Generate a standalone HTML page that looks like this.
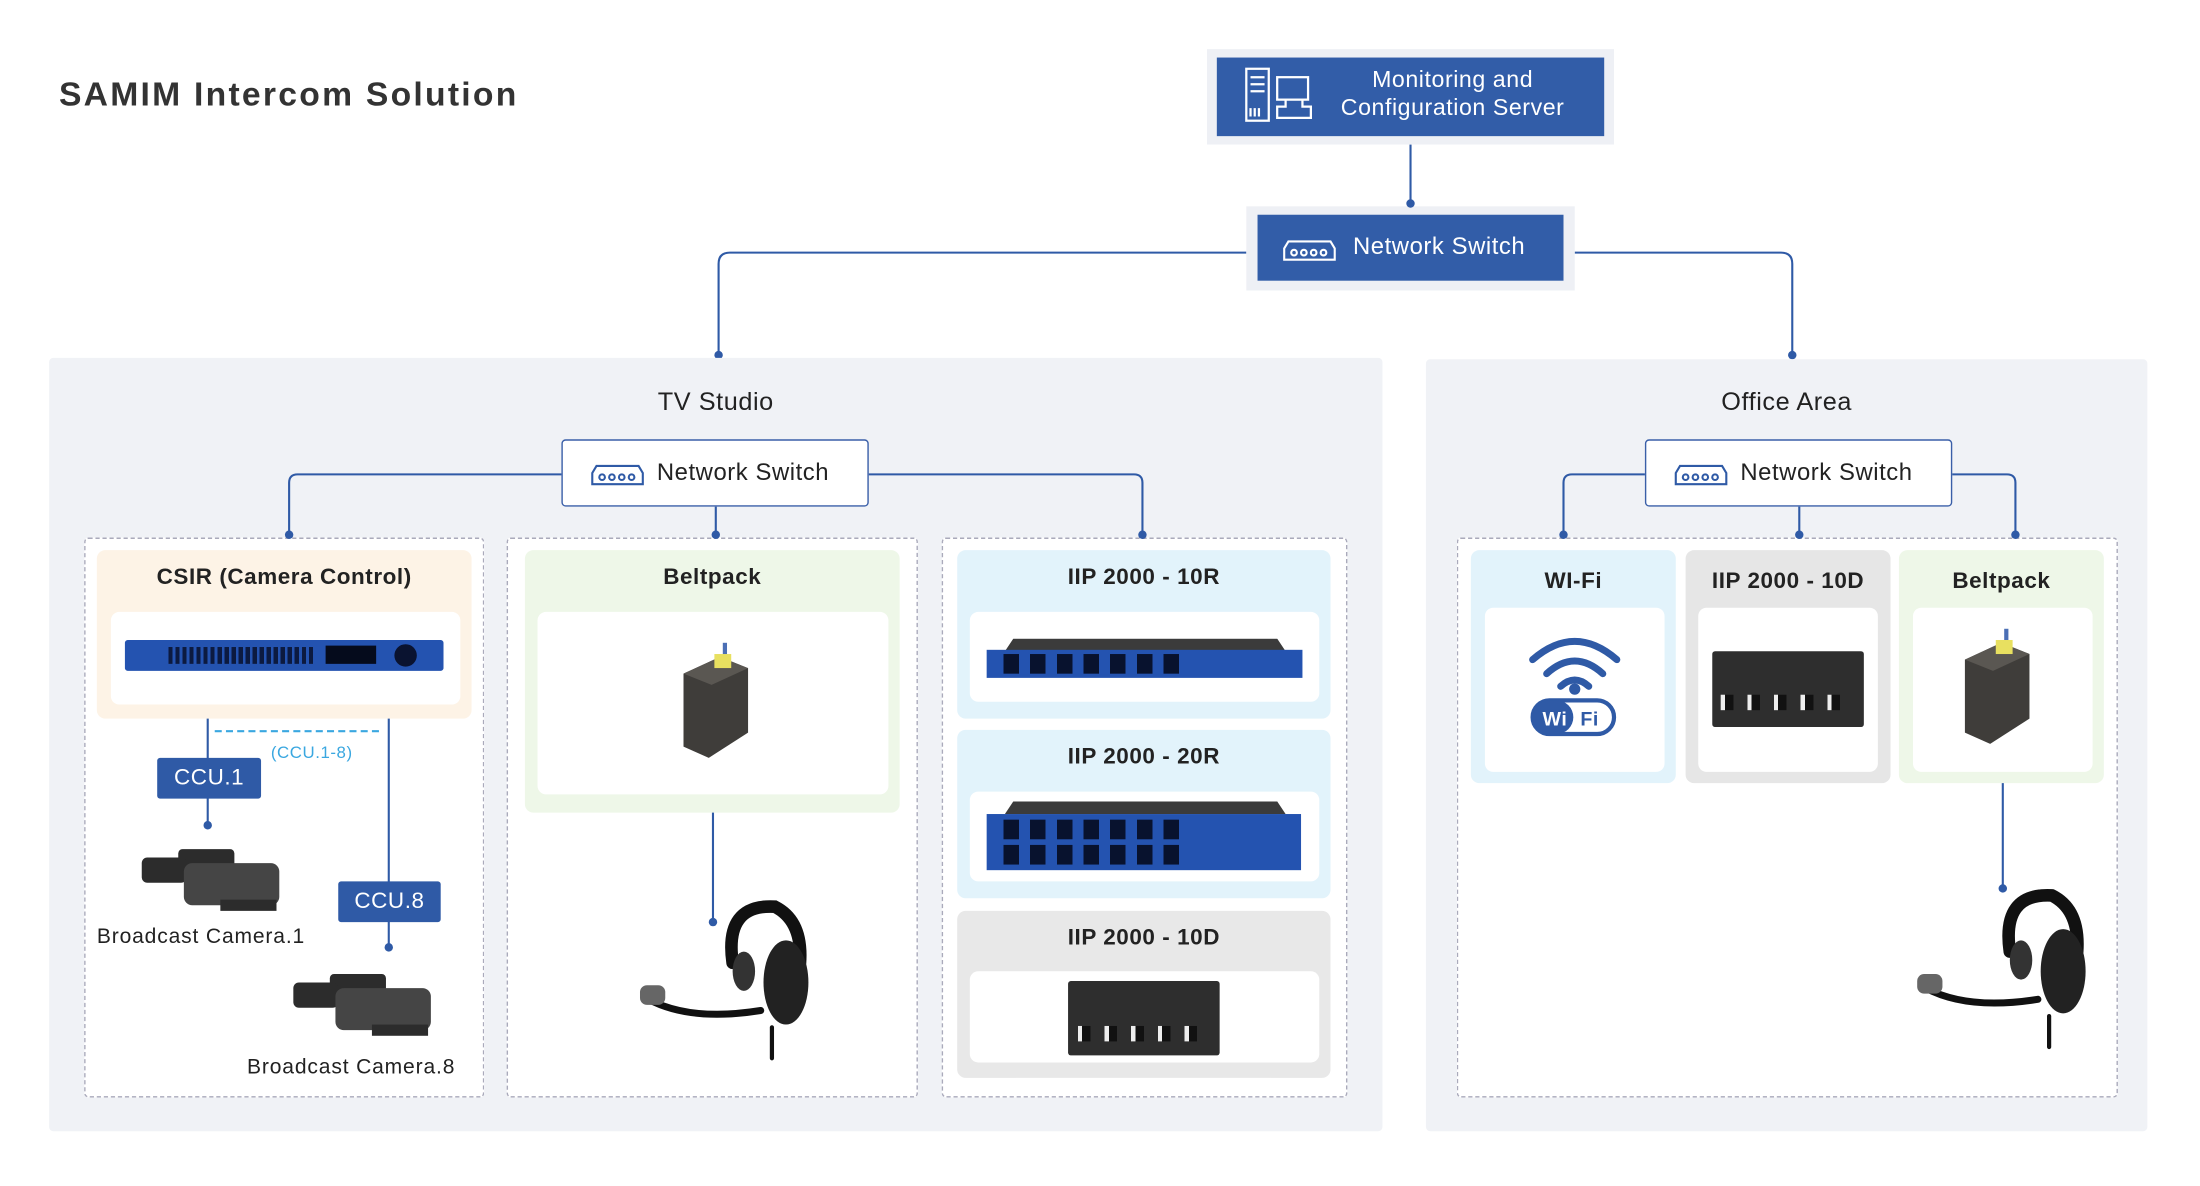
<!DOCTYPE html>
<html><head><meta charset="utf-8"><style>
html,body{margin:0;padding:0;background:#fff;width:2200px;height:1184px;overflow:hidden}
#w{position:absolute;left:0;top:0;width:1560px;height:845px;transform:scale(1.4035);transform-origin:0 0;font-family:"Liberation Sans",sans-serif;color:#222;letter-spacing:0.4px}
.a{position:absolute;box-sizing:border-box}
.t{position:absolute;text-align:center;font-weight:bold;font-size:16px;color:#222}
.blue{background:#325da8;color:#fff}
.dash{border:1px dashed #aab;background:#fff;border-radius:3px}
.in{background:#fff;border-radius:6px}
.dot{position:absolute;width:6px;height:6px;border-radius:3px;background:#2f5aa6;margin:-3px 0 0 -3px}
.ccu{position:absolute;background:#2f5aa6;color:#fff;font-size:16px;text-align:center;line-height:29px;border-radius:2px}
.lbl{position:absolute;font-size:15px;color:#222;white-space:nowrap;letter-spacing:0.6px}
</style></head><body><div id="w">
<svg class="a" style="left:0;top:0" width="1560" height="840">
<g fill="none" stroke="#2f5aa6" stroke-width="1.5">
<path d="M1005 103V145"/>
<path d="M888 180H520Q512 180 512 188V253"/>
<path d="M1122 180H1269Q1277 180 1277 188V253"/>
</g></svg>
<div class="a" style="left:860px;top:35px;width:290px;height:68px;background:#eef0f5"></div>
<div class="a blue" style="left:867px;top:41px;width:276px;height:56px"></div>
<div class="a" style="left:935px;top:47px;width:200px;text-align:center;color:#fff;font-size:16.5px;line-height:20px">Monitoring and<br>Configuration Server</div>
<svg class="a" style="left:886px;top:47px" width="52" height="42"><g fill="none" stroke="#fff" stroke-width="1.6"><rect x="2" y="2" width="16" height="37"/><path d="M5 8h10M5 13h10M5 18h10M5 30v6M8 30v6M11 30v6"/><rect x="24" y="8" width="22" height="16"/><path d="M30 24v5h-6v8h24v-8h-6v-5"/></g></svg>
<div class="a" style="left:888px;top:147px;width:234px;height:60px;background:#eef0f5"></div>
<div class="a blue" style="left:896px;top:153px;width:218px;height:47px"></div>
<div class="a" style="left:964px;top:166px;color:#fff;font-size:17px">Network Switch</div>
<svg class="a" style="left:914px;top:168px" width="40" height="20"><g fill="none" stroke="#fff" stroke-width="1.5"><path d="M4 4h30l3 5v8H1V9z"/><circle cx="8" cy="12" r="2"/><circle cx="15" cy="12" r="2"/><circle cx="22" cy="12" r="2"/><circle cx="29" cy="12" r="2"/></g></svg>
<div class="dot" style="left:1005px;top:145px"></div>
<div class="dot" style="left:512px;top:253px"></div>
<div class="dot" style="left:1277px;top:253px"></div>
<div class="a" style="left:42px;top:54px;font-size:24px;font-weight:bold;color:#333;letter-spacing:1.6px">SAMIM Intercom Solution</div>

<div class="a" style="left:35px;top:255px;width:950px;height:551px;background:#f0f2f6;border-radius:3px"></div>
<div class="a" style="left:1016px;top:256px;width:514px;height:550px;background:#f0f2f6;border-radius:3px"></div>
<div class="a" style="left:410px;top:276px;width:200px;text-align:center;font-size:18px">TV Studio</div>
<div class="a" style="left:1173px;top:276px;width:200px;text-align:center;font-size:18px">Office Area</div>

<div class="a dash" style="left:60px;top:383px;width:285px;height:399px"></div>
<div class="a dash" style="left:361px;top:383px;width:293px;height:399px"></div>
<div class="a dash" style="left:671px;top:383px;width:289px;height:399px"></div>
<div class="a dash" style="left:1038px;top:383px;width:471px;height:399px"></div>

<svg class="a" style="left:0;top:0" width="1560" height="840">
<g fill="none" stroke="#2f5aa6" stroke-width="1.5">
<path d="M400 338H212Q206 338 206 344V381"/><path d="M510 361V381"/><path d="M619 338H808Q814 338 814 344V381"/>
<path d="M1172 338H1120Q1114 338 1114 344V381"/><path d="M1282 361V381"/><path d="M1391 338H1430Q1436 338 1436 344V381"/>
<path d="M148 502V588"/><path d="M277 502V675"/><path d="M508 566V657"/><path d="M1427 550V633"/>
</g>
<path d="M153 521H272" stroke="#3aa7e0" stroke-width="1.5" stroke-dasharray="5 3"/>
</svg>
<div class="a" style="left:400px;top:313px;width:219px;height:48px;background:#fff;border:1px solid #3a5fa8;border-radius:3px"></div>
<div class="a" style="left:468px;top:327px;font-size:17px">Network Switch</div>
<svg class="a" style="left:421px;top:328px" width="40" height="20"><g fill="none" stroke="#2f5aa6" stroke-width="1.5"><path d="M4 4h30l3 5v8H1V9z"/><circle cx="8" cy="12" r="2"/><circle cx="15" cy="12" r="2"/><circle cx="22" cy="12" r="2"/><circle cx="29" cy="12" r="2"/></g></svg>
<div class="a" style="left:1172px;top:313px;width:219px;height:48px;background:#fff;border:1px solid #3a5fa8;border-radius:3px"></div>
<div class="a" style="left:1240px;top:327px;font-size:17px">Network Switch</div>
<svg class="a" style="left:1193px;top:328px" width="40" height="20"><g fill="none" stroke="#2f5aa6" stroke-width="1.5"><path d="M4 4h30l3 5v8H1V9z"/><circle cx="8" cy="12" r="2"/><circle cx="15" cy="12" r="2"/><circle cx="22" cy="12" r="2"/><circle cx="29" cy="12" r="2"/></g></svg>
<div class="dot" style="left:206px;top:381px"></div><div class="dot" style="left:510px;top:381px"></div><div class="dot" style="left:814px;top:381px"></div>
<div class="dot" style="left:1114px;top:381px"></div><div class="dot" style="left:1282px;top:381px"></div><div class="dot" style="left:1436px;top:381px"></div>

<!-- CSIR -->
<div class="a" style="left:69px;top:392px;width:267px;height:120px;background:#fdf3e6;border-radius:6px"></div>
<div class="t" style="left:69px;top:403px;width:267px">CSIR (Camera Control)</div>
<div class="a in" style="left:79px;top:436px;width:249px;height:66px"></div>
<div class="a" style="left:89px;top:456px;width:227px;height:22px;background:#2453b0;border-radius:2px"></div>
<div class="a" style="left:120px;top:461px;width:105px;height:12px;background:repeating-linear-gradient(90deg,#0c1a40 0 3px,#2453b0 3px 5px)"></div>
<div class="a" style="left:232px;top:460px;width:36px;height:13px;background:#050b1c"></div>
<div class="a" style="left:281px;top:459px;width:16px;height:16px;border-radius:8px;background:#0a1330"></div>
<div class="ccu" style="left:112px;top:540px;width:74px">CCU.1</div>
<div class="ccu" style="left:241px;top:628px;width:73px">CCU.8</div>
<div class="a" style="left:193px;top:529px;font-size:12px;color:#3aa7e0">(CCU.1-8)</div>
<div class="dot" style="left:148px;top:588px"></div><div class="dot" style="left:277px;top:675px"></div>
<svg class="a" style="left:97px;top:597px" width="108" height="56"><g fill="#2c2c2c"><rect x="30" y="8" width="40" height="14" rx="3"/><rect x="4" y="14" width="32" height="18" rx="4"/><rect x="34" y="18" width="68" height="30" rx="6" fill="#454545"/><rect x="60" y="44" width="40" height="8"/></g></svg>
<svg class="a" style="left:205px;top:686px" width="108" height="58"><g fill="#2c2c2c"><rect x="30" y="8" width="40" height="14" rx="3"/><rect x="4" y="14" width="32" height="18" rx="4"/><rect x="34" y="18" width="68" height="30" rx="6" fill="#454545"/><rect x="60" y="44" width="40" height="8"/></g></svg>
<div class="lbl" style="left:69px;top:659px">Broadcast Camera.1</div>
<div class="lbl" style="left:176px;top:752px">Broadcast Camera.8</div>

<!-- Beltpack TV -->
<div class="a" style="left:374px;top:392px;width:267px;height:187px;background:#eef7e8;border-radius:6px"></div>
<div class="t" style="left:374px;top:403px;width:267px">Beltpack</div>
<div class="a in" style="left:383px;top:436px;width:250px;height:130px"></div>
<svg class="a" style="left:483px;top:456px" width="52" height="86"><polygon points="4,24 30,12 50,20 50,66 22,84 4,76" fill="#3f3d3a"/><polygon points="4,24 30,12 50,20 24,32" fill="#5a5752"/><rect x="26" y="10" width="12" height="10" fill="#e8e060"/><rect x="32" y="2" width="3" height="8" fill="#4b6fb5"/></svg>
<div class="dot" style="left:508px;top:657px"></div>
<svg class="a" style="left:452px;top:636px" width="130" height="122"><g fill="none" stroke="#111" stroke-linecap="round"><path d="M70 50Q64 8 100 10Q120 20 118 50" stroke-width="9"/><path d="M10 76Q40 92 90 84" stroke-width="5"/><path d="M98 96V118" stroke-width="3"/></g><ellipse cx="108" cy="64" rx="16" ry="30" fill="#222"/><ellipse cx="78" cy="56" rx="8" ry="14" fill="#333"/><rect x="4" y="66" width="18" height="14" rx="5" fill="#666"/></svg>

<!-- IIP 10R -->
<div class="a" style="left:682px;top:392px;width:266px;height:120px;background:#e2f3fb;border-radius:6px"></div>
<div class="t" style="left:682px;top:403px;width:266px">IIP 2000 - 10R</div>
<div class="a in" style="left:691px;top:436px;width:249px;height:64px"></div>
<div class="a" style="left:716px;top:455px;width:200px;height:9px;background:#3b3b3b;clip-path:polygon(3% 0,97% 0,100% 100%,0 100%)"></div>
<div class="a" style="left:703px;top:463px;width:225px;height:20px;background:#2453b0"></div>
<div class="a" style="left:715px;top:466px;width:130px;height:14px;background:repeating-linear-gradient(90deg,#08122e 0 11px,#2453b0 11px 19px)"></div>
<!-- IIP 20R -->
<div class="a" style="left:682px;top:520px;width:266px;height:120px;background:#e2f3fb;border-radius:6px"></div>
<div class="t" style="left:682px;top:531px;width:266px">IIP 2000 - 20R</div>
<div class="a in" style="left:691px;top:564px;width:249px;height:64px"></div>
<div class="a" style="left:716px;top:571px;width:200px;height:9px;background:#3b3b3b;clip-path:polygon(3% 0,97% 0,100% 100%,0 100%)"></div>
<div class="a" style="left:703px;top:580px;width:224px;height:40px;background:#2453b0"></div>
<div class="a" style="left:715px;top:584px;width:130px;height:14px;background:repeating-linear-gradient(90deg,#08122e 0 11px,#2453b0 11px 19px)"></div>
<div class="a" style="left:715px;top:602px;width:130px;height:14px;background:repeating-linear-gradient(90deg,#08122e 0 11px,#2453b0 11px 19px)"></div>
<!-- IIP 10D -->
<div class="a" style="left:682px;top:649px;width:266px;height:119px;background:#e8e8e8;border-radius:6px"></div>
<div class="t" style="left:682px;top:660px;width:266px">IIP 2000 - 10D</div>
<div class="a in" style="left:691px;top:692px;width:249px;height:65px"></div>
<div class="a" style="left:761px;top:699px;width:108px;height:53px;background:#2e2e2e;border-radius:2px"></div>
<div class="a" style="left:768px;top:731px;width:94px;height:11px;background:repeating-linear-gradient(90deg,#eee 0 3px,#111 3px 9px,#2e2e2e 9px 19px)"></div>

<!-- Office -->
<div class="a" style="left:1048px;top:392px;width:146px;height:166px;background:#e2f3fb;border-radius:6px"></div>
<div class="t" style="left:1048px;top:406px;width:146px">WI-Fi</div>
<div class="a in" style="left:1058px;top:433px;width:128px;height:117px"></div>
<svg class="a" style="left:1088px;top:450px" width="68" height="76"><g fill="none" stroke="#2f5aa6" stroke-width="5" stroke-linecap="round"><path d="M4 20Q34 -6 64 20"/><path d="M14 30Q34 12 54 30"/><path d="M24 39Q34 30 44 39"/></g><circle cx="34" cy="41" r="4" fill="#2f5aa6"/><rect x="4" y="49" width="58" height="24" rx="12" fill="#fff" stroke="#2f5aa6" stroke-width="3"/><rect x="4" y="49" width="29" height="24" rx="12" fill="#2f5aa6"/><text x="11" y="67" font-family="Liberation Sans" font-weight="bold" font-size="14" fill="#fff">Wi</text><text x="38" y="67" font-family="Liberation Sans" font-weight="bold" font-size="14" fill="#2f5aa6">Fi</text></svg>
<div class="a" style="left:1201px;top:392px;width:146px;height:166px;background:#e6e6e6;border-radius:6px"></div>
<div class="t" style="left:1201px;top:406px;width:146px">IIP 2000 - 10D</div>
<div class="a in" style="left:1210px;top:433px;width:128px;height:117px"></div>
<div class="a" style="left:1220px;top:464px;width:108px;height:54px;background:#2e2e2e;border-radius:2px"></div>
<div class="a" style="left:1226px;top:495px;width:94px;height:11px;background:repeating-linear-gradient(90deg,#eee 0 3px,#111 3px 9px,#2e2e2e 9px 19px)"></div>
<div class="a" style="left:1353px;top:392px;width:146px;height:166px;background:#eef7e8;border-radius:6px"></div>
<div class="t" style="left:1353px;top:406px;width:146px">Beltpack</div>
<div class="a in" style="left:1363px;top:433px;width:128px;height:117px"></div>
<svg class="a" style="left:1396px;top:446px" width="52" height="86"><polygon points="4,24 30,12 50,20 50,66 22,84 4,76" fill="#3f3d3a"/><polygon points="4,24 30,12 50,20 24,32" fill="#5a5752"/><rect x="26" y="10" width="12" height="10" fill="#e8e060"/><rect x="32" y="2" width="3" height="8" fill="#4b6fb5"/></svg>
<div class="dot" style="left:1427px;top:633px"></div>
<svg class="a" style="left:1362px;top:628px" width="130" height="122"><g fill="none" stroke="#111" stroke-linecap="round"><path d="M70 50Q64 8 100 10Q120 20 118 50" stroke-width="9"/><path d="M10 76Q40 92 90 84" stroke-width="5"/><path d="M98 96V118" stroke-width="3"/></g><ellipse cx="108" cy="64" rx="16" ry="30" fill="#222"/><ellipse cx="78" cy="56" rx="8" ry="14" fill="#333"/><rect x="4" y="66" width="18" height="14" rx="5" fill="#666"/></svg>
</div></body></html>
